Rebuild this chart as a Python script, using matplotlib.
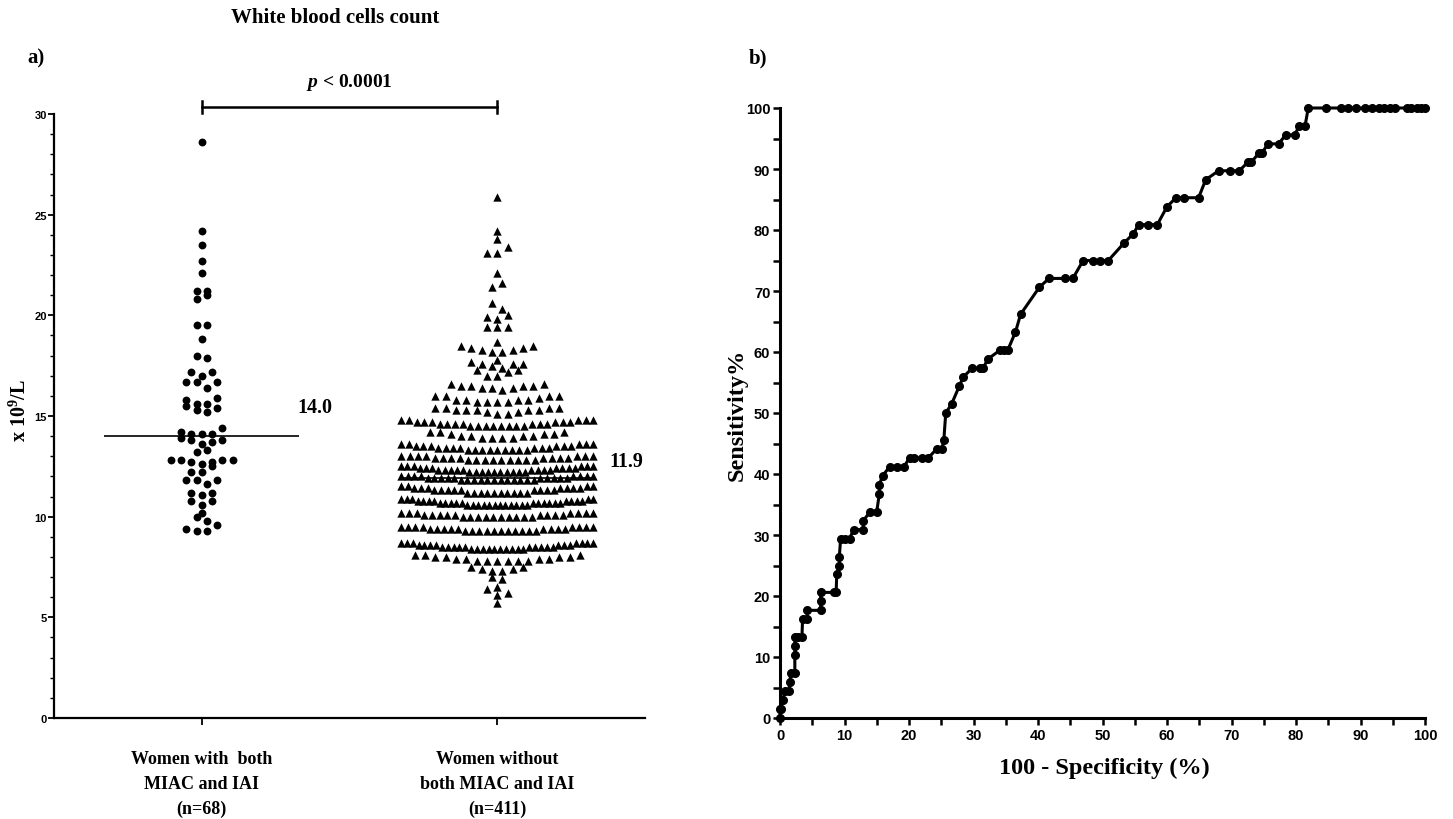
import numpy as np
import matplotlib
matplotlib.use("Agg")
import matplotlib.pyplot as plt

SERIF = "Liberation Serif"
SANS = "Liberation Sans"
plt.rcParams['mathtext.fontset'] = 'custom'
plt.rcParams['mathtext.rm'] = 'Liberation Serif:bold'
plt.rcParams['mathtext.it'] = 'Liberation Serif:italic:bold'
plt.rcParams['mathtext.bf'] = 'Liberation Serif:bold'

# ---------------- data ----------------
group_labels = ["Women with  both\nMIAC and IAI\n(n=68)",
                "Women without\nboth MIAC and IAI\n(n=411)"]

wbc_with = [28.6, 24.2, 23.5, 22.7, 22.1, 21.2, 21.2, 21.0, 20.8, 19.5, 19.5, 18.8,
            18.0, 17.9, 17.2, 17.2, 17.0, 16.7, 16.7, 16.7, 16.4, 15.9, 15.8, 15.6,
            15.6, 15.5, 15.4, 15.3, 15.2, 14.4, 14.2, 14.1, 14.1, 14.1, 13.9, 13.8,
            13.8, 13.7, 13.6, 13.3, 13.2, 12.8, 12.8, 12.8, 12.8, 12.7, 12.7, 12.6,
            12.5, 12.2, 12.2, 11.8, 11.8, 11.8, 11.6, 11.2, 11.2, 11.1, 10.8, 10.8,
            10.6, 10.2, 10.0, 9.8, 9.6, 9.4, 9.3, 9.3]

without_values = [5.7, 6.1, 6.2, 6.4, 6.5, 6.9, 7.0, 7.3, 7.4, 7.5,
                  7.8, 7.9, 8.0, 8.1, 8.4, 8.5, 8.6, 8.7, 9.3, 9.4, 9.5,
                  10.0, 10.1, 10.2, 10.6, 10.7, 10.8, 10.9, 11.2, 11.3, 11.4, 11.5,
                  11.8, 11.9, 12.0, 12.2, 12.3, 12.4, 12.5, 12.8, 12.9, 13.0,
                  13.3, 13.4, 13.5, 13.6, 13.9, 14.0, 14.1, 14.2, 14.5, 14.6, 14.7, 14.8,
                  15.1, 15.2, 15.3, 15.4, 15.7, 15.8, 15.9, 16.0, 16.3, 16.4, 16.5, 16.6,
                  17.0, 17.2, 17.3, 17.4, 17.5, 17.6, 17.7, 17.8,
                  18.2, 18.3, 18.4, 18.5, 18.7, 19.4, 19.8, 19.9, 20.0, 20.3, 20.6,
                  21.4, 21.6, 22.1, 23.1, 23.4, 23.8, 24.2, 25.9]
without_counts = [1, 1, 1, 1, 1, 1, 1, 2, 2, 2,
                  6, 4, 4, 3, 10, 10, 7, 7, 11, 9, 8,
                  10, 9, 7, 12, 11, 8, 5, 10, 9, 7, 4,
                  12, 10, 8, 10, 9, 7, 6, 9, 8, 7,
                  9, 7, 6, 5, 4, 4, 3, 3, 8, 7, 6, 5,
                  2, 2, 5, 4, 4, 4, 1, 4, 1, 3, 4, 2,
                  2, 1, 2, 1, 1, 3, 1, 1,
                  2, 2, 2, 2, 1, 3, 1, 1, 1, 1, 1,
                  1, 1, 1, 2, 1, 1, 1, 1]

p_text = "$p$ < 0.0001"

roc_fpr = [0, 0, 0.1, 0.5, 0.7, 1.4, 1.5, 1.7, 2.3, 2.3, 2.3, 2.3, 2.8, 3.4, 3.5, 4.2, 4.2,
           6.3, 6.3, 6.3, 8.3, 8.7, 8.8, 9.2, 9.2, 9.4, 10.1, 10.8, 11.4, 12.9, 12.9,
           14.0, 15.0, 15.4, 15.4, 15.9, 17.0, 18.1, 19.2, 20.1, 20.7, 22.0, 23.0,
           24.3, 25.1, 25.4, 25.7, 26.6, 27.8, 28.4, 29.8, 31.0, 31.5, 32.2, 34.1,
           34.7, 35.3, 36.5, 37.3, 40.2, 41.7, 44.2, 45.4, 47.0, 48.6, 49.6, 50.9,
           53.4, 54.8, 55.6, 57.0, 58.5, 60.0, 61.4, 62.7, 64.9, 66.0, 68.0, 69.8,
           71.2, 72.6, 73.1, 74.3, 74.7, 75.7, 77.3, 78.4, 79.8, 80.5, 81.4, 81.9,
           84.7, 87.0, 88.0, 89.3, 90.7, 91.8, 92.8, 93.7, 94.5, 95.3, 97.2, 97.9,
           98.7, 99.4, 100.0]
roc_tpr = [0, 1.47, 1.47, 2.94, 4.41, 4.41, 5.88, 7.35, 7.35, 10.29, 11.76, 13.24, 13.24,
           13.24, 16.18, 16.18, 17.65, 17.65, 19.12, 20.59, 20.59, 20.59, 23.53, 25.0,
           26.47, 29.41, 29.41, 29.41, 30.88, 30.88, 32.35, 33.82, 33.82, 36.76, 38.24,
           39.71, 41.18, 41.18, 41.18, 42.65, 42.65, 42.65, 42.65, 44.12, 44.12, 45.59,
           50.0, 51.47, 54.41, 55.88, 57.35, 57.35, 57.35, 58.82, 60.29, 60.29, 60.29,
           63.24, 66.18, 70.59, 72.06, 72.06, 72.06, 75.0, 75.0, 75.0, 75.0, 77.94,
           79.41, 80.88, 80.88, 80.88, 83.82, 85.29, 85.29, 85.29, 88.24, 89.71, 89.71,
           89.71, 91.18, 91.18, 92.65, 92.65, 94.12, 94.12, 95.59, 95.59, 97.06, 97.06,
           100, 100, 100, 100, 100, 100, 100, 100, 100, 100, 100, 100, 100, 100, 100, 100]

# ---------------- helpers ----------------
W, H = 1453, 820


def fx(px):
    return px / W


def fy(py):
    return 1 - py / H


def row_layout(values, center, bin_h=0.35, step=0.035, half_max=0.325):
    v = np.sort(np.asarray(values, dtype=float))
    xs = np.zeros_like(v)
    i = 0
    flip = 1
    while i < len(v):
        j = i
        while j < len(v) and v[j] - v[i] < bin_h:
            j += 1
        n = j - i
        st = step if n <= 1 else min(step, 2 * half_max / (n - 1))
        slots = (np.arange(n) - (n - 1) / 2) * st
        order = sorted(range(n), key=lambda k: (round(abs(slots[k]), 6), flip * slots[k]))
        for r, k in enumerate(order):
            xs[i + r] = center + slots[k]
        flip = -flip
        i = j
    return xs, v


fig = plt.figure(figsize=(W / 100, H / 100), dpi=100)

# ---------------- panel a ----------------
ax = fig.add_axes([fx(54), fy(719), fx(645) - fx(54), fy(115) - fy(719)])
ax.set_xlim(-0.5, 1.5)
ax.set_ylim(0, 30)

x1, y1 = row_layout(wbc_with, 0)
ax.scatter(x1, y1, s=32, marker='o', color='black', linewidths=0, zorder=3, clip_on=False)

g2 = np.repeat(without_values, without_counts)
x2, y2 = row_layout(g2, 1)
ax.scatter(x2, y2, s=36, marker='^', color='black', linewidths=0, zorder=3, clip_on=False)

med1 = np.median(wbc_with)
med2 = np.median(g2)
ax.hlines(med1, -0.33, 0.33, color='black', lw=1.2, zorder=4)
ax.hlines(med2, 1 - 0.33, 1 + 0.33, color='black', lw=1.2, zorder=4)
ax.text(0.325, med1 + 1.45, f"{med1:.1f}", family=SERIF, weight='bold', fontsize=14.5,
        ha='left', va='center')
ax.text(1.38, med2 + 0.85, f"{med2:.1f}", family=SERIF, weight='bold', fontsize=14.5,
        ha='left', va='center')

# significance bracket
yb = 30.35
ax.plot([0, 1], [yb, yb], color='black', lw=1.8, clip_on=False)
ax.plot([0, 0], [yb - 0.3, yb + 0.3], color='black', lw=1.8, clip_on=False)
ax.plot([1, 1], [yb - 0.3, yb + 0.3], color='black', lw=1.8, clip_on=False)
ax.text(0.5, 31.6, p_text, ha='center', va='center', fontsize=14, family=SERIF,
        weight='bold')

for s in ['top', 'right']:
    ax.spines[s].set_visible(False)
for s in ['left', 'bottom']:
    ax.spines[s].set_linewidth(1.6)
ax.set_yticks(np.arange(0, 31, 5))
ax.set_yticks(np.arange(0, 31, 1), minor=True)
ax.tick_params(axis='y', which='major', length=4, width=1.3, pad=1, labelsize=8)
ax.tick_params(axis='y', which='minor', length=3, width=1.0)
for lab in ax.get_yticklabels():
    lab.set_fontfamily(SANS)
    lab.set_fontweight('bold')
ax.set_xticks([0, 1])
ax.set_xticklabels(group_labels, family=SERIF, weight='bold', fontsize=13, linespacing=1.6)
ax.tick_params(axis='x', length=5, width=1.3, pad=18)

fig.text(fx(20), fy(410), "x 10$^{9}$/L", rotation=90, ha='center', va='center',
         family=SERIF, weight='bold', fontsize=14.5)

# ---------------- panel b ----------------
bx = fig.add_axes([fx(780), fy(719), fx(1425) - fx(780), fy(109) - fy(719)])
bx.set_xlim(0, 100)
bx.set_ylim(0, 100)
bx.plot(roc_fpr, roc_tpr, color='black', lw=2.2, marker='o', markersize=5.5,
        clip_on=False, zorder=3)
for s in ['top', 'right']:
    bx.spines[s].set_visible(False)
for s in ['left', 'bottom']:
    bx.spines[s].set_linewidth(2.2)
bx.set_xticks(np.arange(0, 101, 10))
bx.set_xticks(np.arange(0, 101, 5), minor=True)
bx.set_yticks(np.arange(0, 101, 10))
bx.set_yticks(np.arange(0, 101, 5), minor=True)
bx.tick_params(which='both', length=5, width=1.8, labelsize=10.5, pad=2)
for lab in bx.get_xticklabels() + bx.get_yticklabels():
    lab.set_fontfamily(SANS)
    lab.set_fontweight('bold')

fig.text(fx(1104), fy(768), "100 - Specificity (%)", ha='center', va='center',
         family=SERIF, weight='bold', fontsize=17.5)
fig.text(fx(737), fy(415), "Sensitivity%", rotation=90, ha='center', va='center',
         family=SERIF, weight='bold', fontsize=17.5)

# ---------------- titles ----------------
fig.text(fx(335), fy(18), "White blood cells count", ha='center', va='center',
         family=SERIF, weight='bold', fontsize=15)
fig.text(fx(36), fy(58), "a)", ha='center', va='center', family=SERIF, weight='bold', fontsize=15)
fig.text(fx(758), fy(58), "b)", ha='center', va='center', family=SERIF, weight='bold', fontsize=15)

fig.savefig("out.png", dpi=100)
